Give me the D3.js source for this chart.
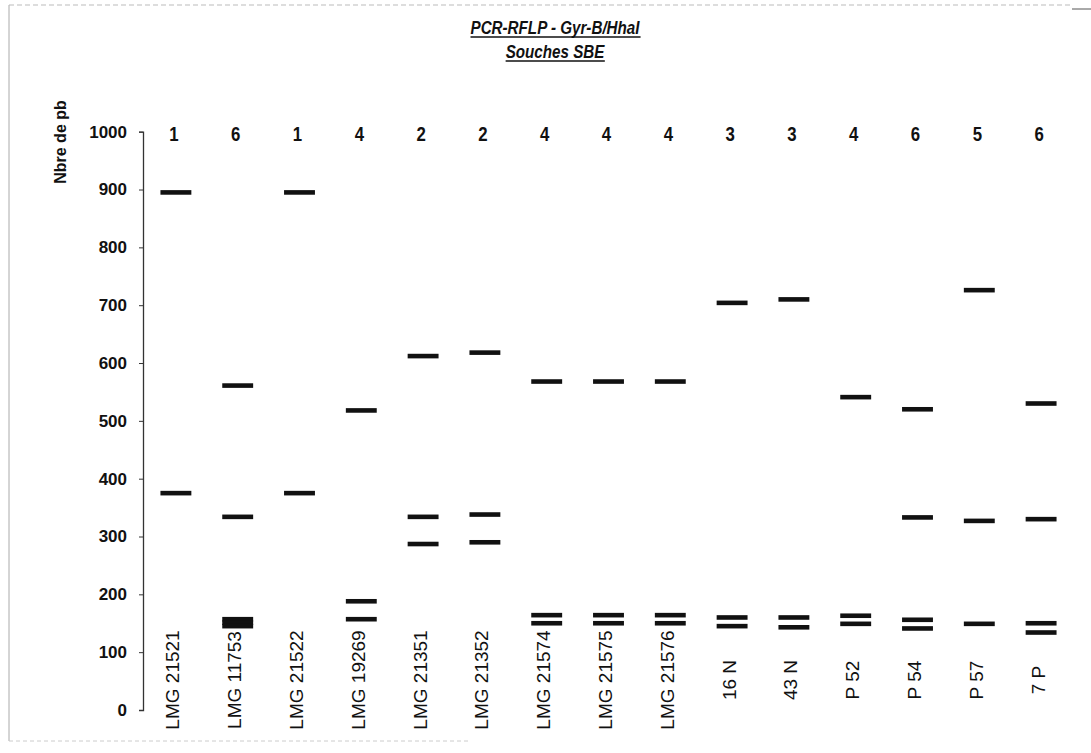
<!DOCTYPE html>
<html><head><meta charset="utf-8">
<script src="https://cdn.jsdelivr.net/npm/d3@7"></script>
<style>html,body{margin:0;padding:0;background:#fff;}svg{display:block;}</style>
</head><body>
<svg id="chart" width="1091" height="753"></svg>
<script>
const lanes = ["LMG 21521","LMG 11753","LMG 21522","LMG 19269","LMG 21351","LMG 21352","LMG 21574","LMG 21575","LMG 21576","16 N","43 N","P 52","P 54","P 57","7 P"];
const groups = ["1","6","1","4","2","2","4","4","4","3","3","4","6","5","6"];
const fragments = [
  [895, 375],
  [561, 334, 157, 151, 145],
  [895, 375],
  [518, 188, 157],
  [612, 334, 287],
  [618, 338, 290],
  [568, 164, 150],
  [568, 164, 150],
  [568, 164, 150],
  [704, 160, 145],
  [710, 160, 143],
  [541, 163, 149],
  [520, 333, 156, 141],
  [726, 327, 149],
  [530, 330, 150, 134]
];
const yTicks = [0,100,200,300,400,500,600,700,800,900,1000];
const titleLines = ["PCR-RFLP - Gyr-B/HhaI", "Souches SBE"];
const yTitle = "Nbre de pb";

const svg = d3.select("#chart");
const sans = "'Liberation Sans',Arial,sans-serif";
const NARROW = 0.8;

// frame (scanned page border)
svg.append("line").attr("x1",9).attr("x2",9).attr("y1",5).attr("y2",741).attr("stroke","#aaa").attr("stroke-width",1);
svg.append("line").attr("x1",9).attr("x2",1072).attr("y1",5).attr("y2",5).attr("stroke","#bbb").attr("stroke-width",1).attr("stroke-dasharray","5,3");
svg.append("line").attr("x1",1072).attr("x2",1091).attr("y1",9).attr("y2",9).attr("stroke","#555").attr("stroke-width",1);
svg.append("line").attr("x1",9).attr("x2",470).attr("y1",741).attr("y2",741).attr("stroke","#ccc").attr("stroke-width",1).attr("stroke-dasharray","4,3");

const x = d3.scaleBand().domain(lanes).range([145,1072]).padding(0);
const y = d3.scaleLinear().domain([0,1000]).range([710,131.7]);

// y axis
const yAxis = d3.axisLeft(y).tickValues(yTicks).tickSize(4).tickPadding(12).tickFormat(d3.format("d"));
const gy = svg.append("g").attr("transform","translate(143,0)").call(yAxis);
gy.select(".domain").attr("stroke","#333").attr("stroke-width",1.3);
gy.selectAll(".tick line").attr("stroke","#333");
gy.selectAll(".tick text").attr("font-family",sans).attr("font-weight","bold").attr("font-size",17).attr("fill","#111");

// y title
svg.append("text").attr("transform","translate(60,142) rotate(-90)")
  .attr("text-anchor","middle").attr("dominant-baseline","central")
  .attr("font-family",sans).attr("font-weight","bold").attr("font-size",16).attr("fill","#111").text(yTitle);

// title (condensed bold italic)
const tY = [34, 58];
titleLines.forEach((t,i)=>{
  const g = svg.append("g").attr("transform",`translate(555,${tY[i]}) scale(${NARROW},1)`);
  const tx = g.append("text").attr("x",0).attr("y",0).attr("text-anchor","middle")
    .attr("font-family",sans).attr("font-weight","bold").attr("font-style","italic")
    .attr("font-size",19).attr("fill","#111").text(t);
  const bb = tx.node().getBBox();
  g.append("line").attr("x1",bb.x).attr("x2",bb.x+bb.width).attr("y1",3).attr("y2",3)
    .attr("stroke","#111").attr("stroke-width",1.6);
});

// group numbers
svg.selectAll("g.grp").data(lanes).enter().append("g").attr("class","grp")
  .attr("transform",d=>`translate(${x(d)+x.bandwidth()/2-2},141) scale(${NARROW},1)`)
  .append("text").attr("text-anchor","middle")
  .attr("font-family",sans).attr("font-weight","bold").attr("font-size",21).attr("fill","#111")
  .text((d,i)=>groups[i]);

// bands
const bandData = [];
fragments.forEach((arr,i)=>arr.forEach(v=>bandData.push({lane:lanes[i], v})));
const bw = x.bandwidth()*0.5;
svg.selectAll("rect.band").data(bandData).enter().append("rect").attr("class","band")
  .attr("x",d=>x(d.lane)+x.bandwidth()/2-bw/2).attr("width",bw)
  .attr("y",d=>y(d.v)-2.3).attr("height",4.6).attr("fill","#111");

// lane labels
svg.selectAll("text.lane").data(lanes).enter().append("text").attr("class","lane")
  .attr("transform",d=>`translate(${x(d)+x.bandwidth()/2-3},680) rotate(-90)`)
  .attr("text-anchor","middle").attr("dominant-baseline","central")
  .attr("font-family",sans).attr("font-size",19).attr("fill","#111").text(d=>d);
</script>
</body></html>
